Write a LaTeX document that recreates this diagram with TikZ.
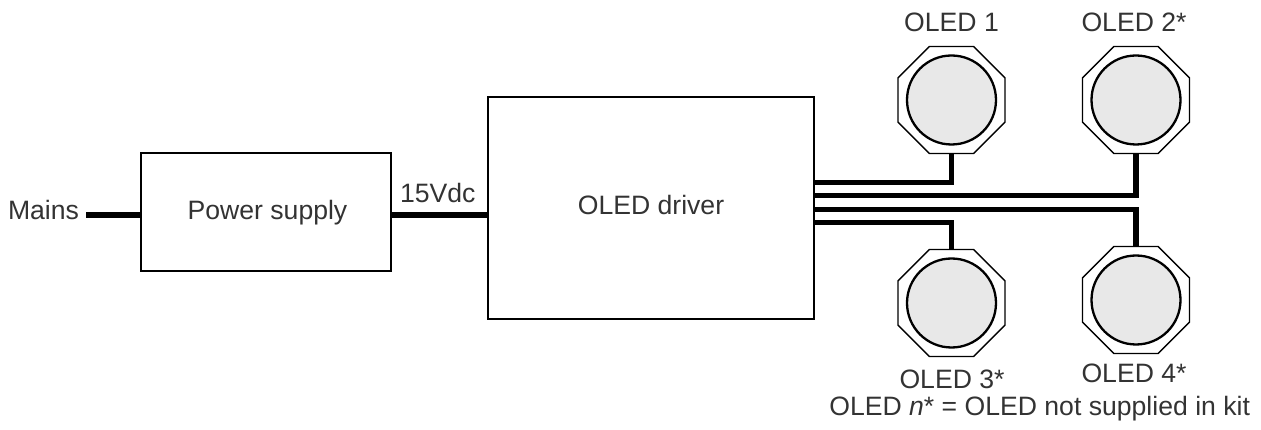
\documentclass[tikz,border=0pt]{standalone}
\usepackage{fontspec}
\setmainfont{Liberation Sans}
\usetikzlibrary{shapes.geometric}
\definecolor{txt}{gray}{0.2}
\definecolor{lens}{gray}{0.91}
\tikzset{
  lbl/.style={inner sep=0pt, outer sep=0pt, text=txt, font=\fontsize{26.6}{31}\selectfont},
  blockbox/.style={draw=black, line width=1.5pt, inner sep=0pt, outer sep=0pt},
  wire/.style={line width=5.2pt, line join=miter},
  octa/.style={draw=black, line width=1.3pt, regular polygon, regular polygon sides=8, minimum size=115.8pt, inner sep=0pt, outer sep=0pt, fill=white},
  lensc/.style={draw=black, line width=2.3pt, circle, minimum size=89pt, inner sep=0pt, fill=lens},
}
\begin{document}
\begin{tikzpicture}[x=1pt,y=-1pt]
\useasboundingbox (0,0) rectangle (1261,430);
% blocks
\node[blockbox, minimum width=250pt, minimum height=118pt] (ps) at (266,212) {};
\node[blockbox, minimum width=326pt, minimum height=222pt] (drv) at (651,208) {};
\node[lbl, anchor=base] (pstext) at (267.5,220) {Power supply};
\node[lbl, anchor=base] (drvtext) at (651,215) {OLED driver};
\node[lbl, anchor=base east] (mains) at (79,220) {Mains};
\node[lbl, anchor=base west] (vdc) at (400,203) {15Vdc};
\coordinate (mainsend) at (86,215);
% OLEDs
\node[octa] (oct1) at (951.5,100) {};
\node[octa] (oct2) at (1136,100) {};
\node[octa] (oct3) at (951.5,303) {};
\node[octa] (oct4) at (1136,300) {};
\node[lensc] (l1) at (oct1) {};
\node[lensc] (l2) at (oct2) {};
\node[lensc] (l3) at (oct3) {};
\node[lensc] (l4) at (oct4) {};
\node[lbl, anchor=base] (t1) at (951.5,31.7) {OLED 1};
\node[lbl, anchor=base] (t2) at (1134,31.7) {OLED 2*};
\node[lbl, anchor=base] (t3) at (952,388) {OLED 3*};
\node[lbl, anchor=base] (t4) at (1134,382) {OLED 4*};
\node[lbl, anchor=base east] (note) at (1250,415) {OLED \textit{n}* = OLED not supplied in kit};
% wires
\draw[wire] (mainsend) -- (ps.west |- mainsend);
\draw[wire] (ps.east |- 0,215) -- (drv.west |- 0,215);
\draw[wire] (drv.east |- 0,182.7) -| (oct1.south);
\draw[wire] (drv.east |- 0,195.7) -| (oct2.south);
\draw[wire] (drv.east |- 0,209.3) -| (oct4.north);
\draw[wire] (drv.east |- 0,222.7) -| (oct3.north);
\end{tikzpicture}
\end{document}
